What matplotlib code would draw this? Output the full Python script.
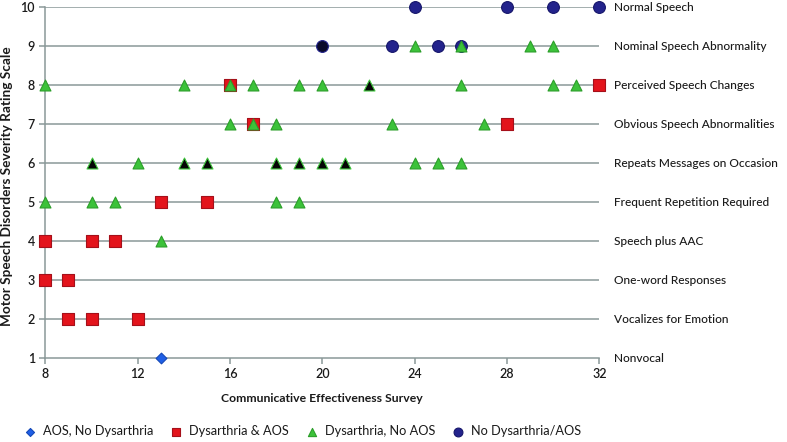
from collections import Counter

import matplotlib
matplotlib.use("Agg")
import matplotlib.pyplot as plt

# ---------------------------------------------------------------------------
# Data
# ---------------------------------------------------------------------------

severity_labels = [
    "Nonvocal", "Vocalizes for Emotion", "One-word Responses", "Speech plus AAC",
    "Frequent Repetition Required", "Repeats Messages on Occasion",
    "Obvious Speech Abnormalities", "Perceived Speech Changes",
    "Nominal Speech Abnormality", "Normal Speech",
]
x_ticks = [8, 12, 16, 20, 24, 28, 32]

aos_x = [13]
aos_y = [1]

dys_aos_x = [9, 10, 12, 8, 9, 8, 10, 11, 13, 15, 17, 28, 16, 32]
dys_aos_y = [2, 2, 2, 3, 3, 4, 4, 4, 5, 5, 7, 7, 8, 8]

dys_x = [13,
         8, 10, 11, 18, 19,
         10, 10, 12, 14, 14, 15, 15, 18, 18, 19, 19, 20, 20, 21, 21, 24, 25, 26,
         16, 17, 18, 23, 27,
         8, 14, 16, 17, 19, 20, 22, 22, 26, 30, 31,
         24, 26, 29, 30]
dys_y = [4,
         5, 5, 5, 5, 5,
         6, 6, 6, 6, 6, 6, 6, 6, 6, 6, 6, 6, 6, 6, 6, 6, 6, 6,
         7, 7, 7, 7, 7,
         8, 8, 8, 8, 8, 8, 8, 8, 8, 8, 8,
         9, 9, 9, 9]

none_x = [20, 20, 23, 25, 26, 24, 28, 30, 32]
none_y = [9, 9, 9, 9, 9, 10, 10, 10, 10]

BLUE = "#1f5fe6"
RED = "#e3141c"
GREEN = "#3cc23a"
NAVY = "#23238c"
GRID = "#8a9898"
TEXT = "#1a1a1a"

plt.rcParams["font.family"] = ["Lato", "DejaVu Sans"]


def split_dupes(xs, ys):
    """Return (single points, stacked points) — stacked ones read darker."""
    c = Counter(zip(xs, ys))
    one = [p for p, n in c.items() if n == 1]
    many = [p for p, n in c.items() if n > 1]
    return one, many


fig = plt.figure(figsize=(7.87, 4.42), dpi=100)
ax = fig.add_axes([0.0577, 0.19, 0.7038, 0.794])

ax.set_xlim(8, 32)
ax.set_ylim(1, 10)
for y in range(2, 11):
    ax.axhline(y, color=GRID, linewidth=1.1, zorder=1)

for side in ("top", "right", "bottom"):
    ax.spines[side].set_visible(side == "bottom")
ax.spines["left"].set_color(GRID)
ax.spines["bottom"].set_color(GRID)
ax.spines["left"].set_linewidth(1.1)
ax.spines["bottom"].set_linewidth(1.1)

ax.set_xticks(x_ticks)
ax.set_yticks(range(1, 11))
ax.tick_params(axis="both", colors=GRID, labelcolor=TEXT, labelsize=9, length=4, width=1.1)
for lbl in ax.get_xticklabels() + ax.get_yticklabels():
    lbl.set_fontweight("semibold")

ax.set_xlabel("Communicative Effectiveness Survey", fontsize=8.8, fontweight="bold",
              color=TEXT, labelpad=9)
ax.set_ylabel("Motor Speech Disorders Severity Rating Scale", fontsize=9.8,
              fontweight="bold", color=TEXT)
ax.yaxis.set_label_coords(-0.058, 0.49)

trans = ax.get_yaxis_transform()
for i, lab in enumerate(severity_labels, start=1):
    ax.text(1.026, i, lab, transform=trans, ha="left", va="center",
            fontsize=8.6, color=TEXT, fontweight="medium")

kw = dict(clip_on=False, linewidths=0.8)
ax.scatter(aos_x, aos_y, marker="D", s=30, color=BLUE, edgecolors="#1448b8",
           zorder=3, label="AOS, No Dysarthria", **kw)
ax.scatter(dys_aos_x, dys_aos_y, marker="s", s=66, color=RED, edgecolors="#a5101a",
           zorder=3, label="Dysarthria & AOS", **kw)

one, many = split_dupes(none_x, none_y)
ax.scatter([p[0] for p in one], [p[1] for p in one], marker="o", s=72, color=NAVY,
           edgecolors="#15156a", zorder=4, label="No Dysarthria/AOS", **kw)
ax.scatter([p[0] for p in many], [p[1] for p in many], marker="o", s=72, color="#0a0a2a",
           edgecolors=NAVY, zorder=4, **kw)

one, many = split_dupes(dys_x, dys_y)
ax.scatter([p[0] for p in one], [p[1] for p in one], marker="^", s=62, color=GREEN,
           edgecolors="#2c9e2a", zorder=5, label="Dysarthria, No AOS", **kw)
ax.scatter([p[0] for p in many], [p[1] for p in many], marker="^", s=62, color="#050505",
           edgecolors=GREEN, zorder=5, **kw)

handles, labels = ax.get_legend_handles_labels()
order = ["AOS, No Dysarthria", "Dysarthria & AOS", "Dysarthria, No AOS", "No Dysarthria/AOS"]
hmap = dict(zip(labels, handles))
fig.legend([hmap[k] for k in order], order, loc="center", bbox_to_anchor=(0.38, 0.025),
           ncol=4, frameon=False, fontsize=9.2, handletextpad=0.0, columnspacing=0.8,
           markerscale=0.75, labelcolor=TEXT)

fig.savefig("out.png", dpi=100)
